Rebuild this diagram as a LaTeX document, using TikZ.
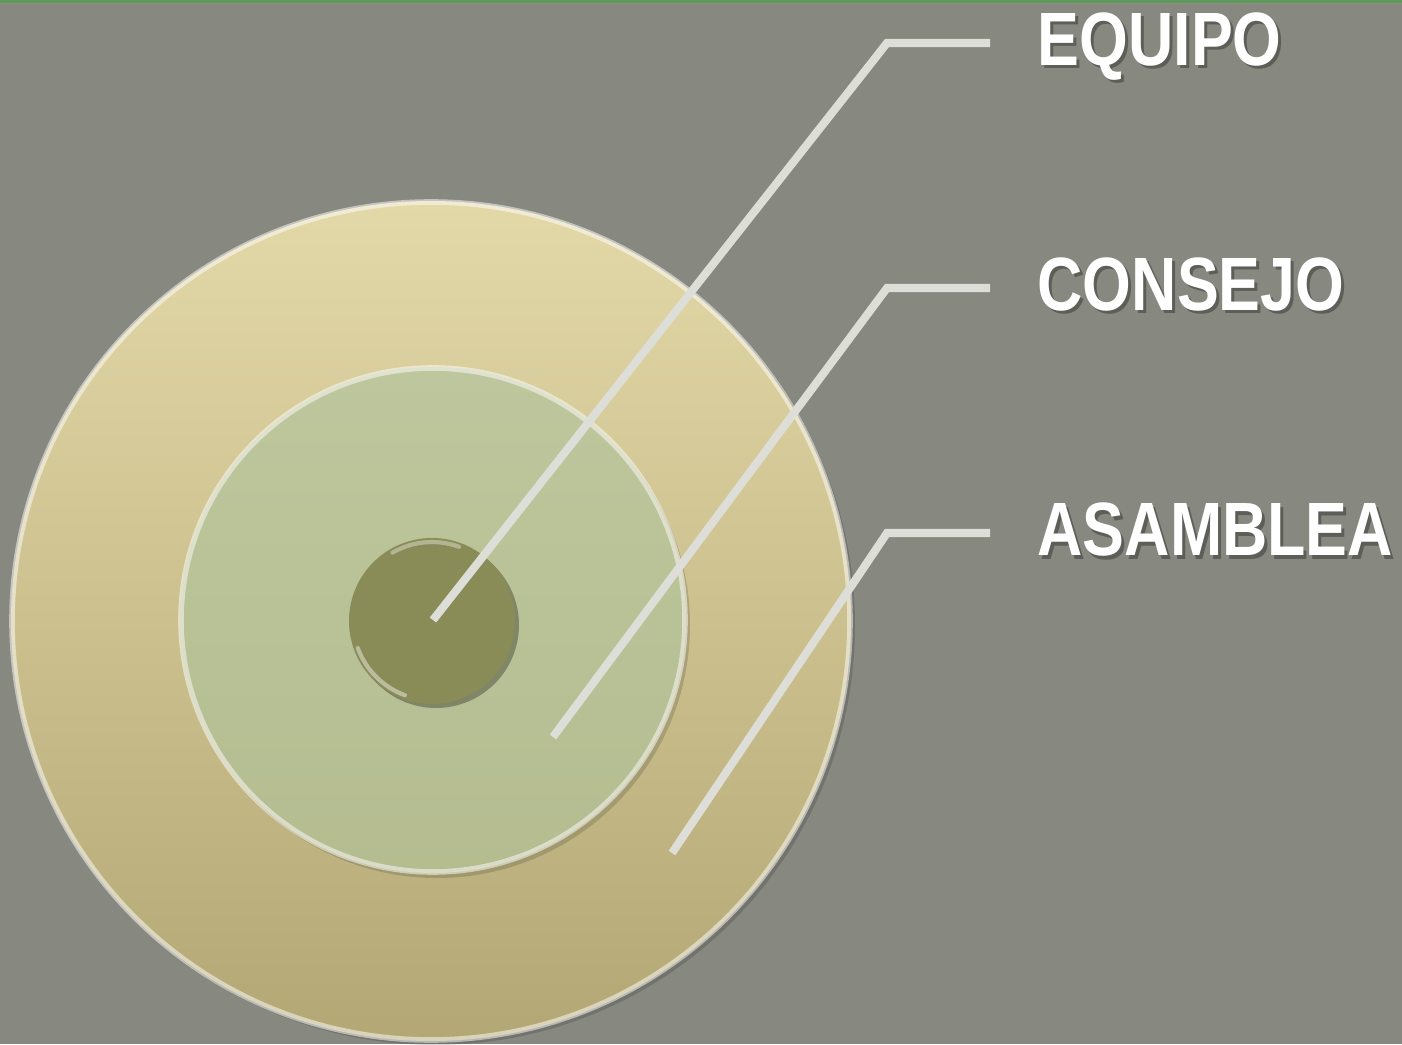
\documentclass[tikz,border=0pt]{standalone}
\usepackage{fontspec}
\setmainfont{Liberation Sans}
\newfontfamily\lblfont[FakeStretch=0.83]{Liberation Sans}
\usetikzlibrary{calc,positioning}
\definecolor{cBack}{HTML}{878880}
\definecolor{cTop}{HTML}{5E9A58}
\definecolor{cOutTop}{HTML}{E3D8A7}
\definecolor{cOutBot}{HTML}{B3A875}
\definecolor{cMidTop}{HTML}{BEC69D}
\definecolor{cMidBot}{HTML}{B4BC90}
\definecolor{cCore}{HTML}{8A8C58}
\definecolor{cLine}{HTML}{DEDED8}
\tikzset{
  ring/.style={circle,inner sep=0pt,outer sep=0pt},
  rim/.style={line width=1.6pt,draw=white,draw opacity=.5},
  lead/.style={line width=2.3pt,cLine,line join=miter},
  lbl/.style={font=\lblfont\bfseries\fontsize{21.5}{24}\selectfont,text=white,inner sep=0pt,anchor=base west},
  lblsh/.style={lbl,text=black,text opacity=.3},
}

\begin{document}
\begin{tikzpicture}
  \useasboundingbox (0,0) rectangle (14.02,10.44);
  \fill[cBack] (0,0) rectangle (14.02,10.44);
  \fill[cTop] (0,10.41) rectangle (14.02,10.44);
  \fill[black!45] (0,10.40) rectangle (14.02,10.41);
  % outer ring
  \fill[black,opacity=.15] (4.35,4.19) circle (4.20);
  \node[ring,minimum size=8.40cm,top color=cOutTop,bottom color=cOutBot] (asam) at (4.31,4.23) {};
  \draw[rim] (asam) circle (4.19);
  % middle ring
  \fill[black,opacity=.15] (4.37,4.19) circle (2.53);
  \node[ring,minimum size=5.06cm,top color=cMidTop,bottom color=cMidBot] (cons) at (4.33,4.24) {};
  \draw[rim] (cons) circle (2.52);
  % core
  \fill[black,opacity=.3] (4.36,4.19) circle (0.83);
  \node[ring,minimum size=1.66cm,fill=cCore] (equi) at (4.32,4.23) {};
  \draw[line width=1.2pt,white!70!cCore,opacity=.6,line cap=round] ($(equi)+(200:0.79)$) arc (200:250:0.79);
  \draw[line width=1.2pt,white!70!cCore,opacity=.5,line cap=round] ($(equi)+(70:0.79)$) arc (70:120:0.79);
  % labels
  \node[lblsh] at (10.40,9.75) {EQUIPO};
  \node[lbl] (lE) at (10.37,9.78) {EQUIPO};
  \node[lblsh] at (10.40,7.30) {CONSEJO};
  \node[lbl] (lC) at (10.37,7.33) {CONSEJO};
  \node[lblsh] at (10.40,4.85) {ASAMBLEA};
  \node[lbl] (lA) at (10.37,4.88) {ASAMBLEA};
  % leader lines
  \coordinate (pE) at (4.33,4.24);
  \coordinate (kE) at (8.87,10.01);
  \coordinate (eE) at (9.90,10.01);
  \coordinate (pC) at (5.53,3.07);
  \coordinate (kC) at (8.87,7.56);
  \coordinate (eC) at (9.90,7.56);
  \coordinate (pA) at (6.72,1.91);
  \coordinate (kA) at (8.87,5.11);
  \coordinate (eA) at (9.90,5.11);
  \draw[lead] (pE) -- (kE) -- (eE);
  \draw[lead] (pC) -- (kC) -- (eC);
  \draw[lead] (pA) -- (kA) -- (eA);
\end{tikzpicture}
\end{document}
